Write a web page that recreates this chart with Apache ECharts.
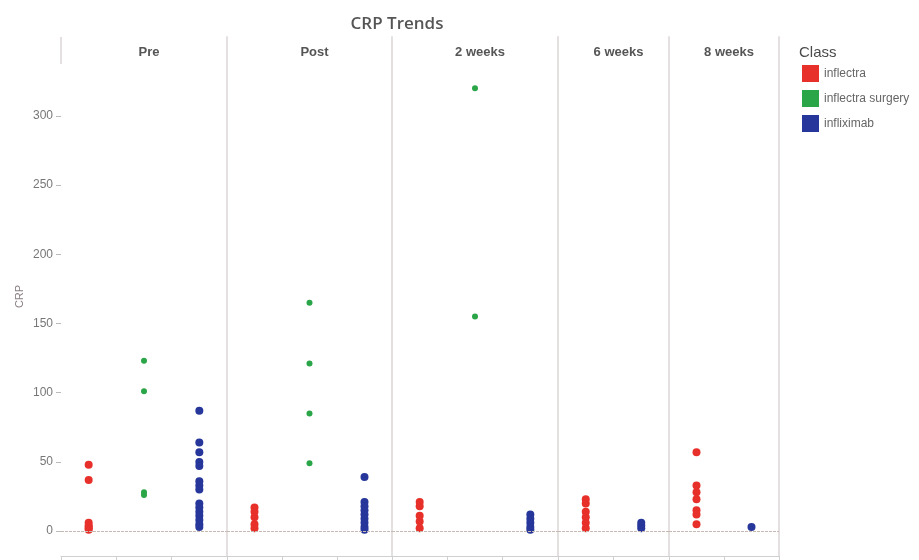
<!DOCTYPE html>
<html>
<head>
<meta charset="utf-8">
<script src="https://cdn.jsdelivr.net/npm/echarts@6/dist/echarts.min.js"></script>
<style>
  html, body { margin: 0; padding: 0; background: #fff; }
  #chart { width: 919px; height: 560px; }
</style>
</head>
<body>
<div id="chart"></div>
<script>
// Data
const facets = ['Pre', 'Post', '2 weeks', '6 weeks', '8 weeks'];
const classes = ['inflectra', 'inflectra surgery', 'infliximab'];
const facetClasses = [
    ['inflectra', 'inflectra surgery', 'infliximab'],
    ['inflectra', 'inflectra surgery', 'infliximab'],
    ['inflectra', 'inflectra surgery', 'infliximab'],
    ['inflectra', 'infliximab'],
    ['inflectra', 'infliximab']
];
const inflectraCRP = [
    [48, 37, 6, 4, 3, 2, 1],
    [17, 14, 10, 5, 2],
    [21, 18, 11, 7, 2],
    [23, 20, 14, 10, 6, 2],
    [57, 33, 28, 23, 15, 12, 5]
];
const surgeryCRP = [
    [123, 101, 28, 26],
    [165, 121, 85, 49],
    [320, 155],
    [],
    []
];
const infliximabCRP = [
    [87, 64, 57, 50, 47, 36, 33, 30, 20, 17, 14, 11, 8, 5, 3],
    [39, 21, 18, 15, 12, 9, 6, 3, 1],
    [12, 9, 6, 3, 1],
    [6, 4, 2],
    [3]
];
const crpTicks = [0, 50, 100, 150, 200, 250, 300];

// Layout
const panelLeft = [61, 227, 392, 558, 669];
const panelWidth = [166, 165, 166, 111, 110];
const colors = { 'inflectra': '#e8302a', 'inflectra surgery': '#2aa548', 'infliximab': '#26369a' };
const sizes = { 'inflectra': 8, 'inflectra surgery': 6, 'infliximab': 8 };
const valuesByClass = { 'inflectra': inflectraCRP, 'inflectra surgery': surgeryCRP, 'infliximab': infliximabCRP };
const font = 'Liberation Sans, Arial, sans-serif';
const dividerColor = '#e4e0e0';

let chart = echarts.init(document.getElementById('chart'));

let grids = [], xAxes = [], yAxes = [], series = [];
let titles = [{
    text: 'CRP Trends',
    left: 392,
    top: 11,
    textAlign: 'center',
    textStyle: { fontFamily: 'Open Sans, sans-serif', fontSize: 17, fontWeight: 600, color: '#555' }
}, {
    text: 'Class',
    left: 794,
    top: 40,
    textStyle: { fontFamily: font, fontSize: 15, fontWeight: 'normal', color: '#4a4a4a' }
}];

facets.forEach((facet, i) => {
    grids.push({ left: panelLeft[i], width: panelWidth[i], top: 37, bottom: 4 });

    titles.push({
        text: facet,
        left: panelLeft[i] + panelWidth[i] / 2,
        top: 41,
        textAlign: 'center',
        textStyle: { fontFamily: font, fontSize: 13, fontWeight: 'bold', color: '#555' }
    });

    xAxes.push({
        type: 'category',
        gridIndex: i,
        data: facetClasses[i],
        axisLine: { onZero: false, lineStyle: { color: '#d0d0d0' } },
        axisTick: { show: true, length: 8, interval: 0, lineStyle: { color: '#d0d0d0' } },
        axisLabel: { show: false },
        splitLine: { show: false }
    });

    yAxes.push({
        type: 'value',
        gridIndex: i,
        min: -18,
        max: 357,
        name: i === 0 ? 'CRP' : '',
        nameLocation: 'middle',
        nameGap: 36,
        nameTextStyle: { fontFamily: font, fontSize: 11, color: '#8a7f86' },
        axisLine: { show: i > 0, lineStyle: { color: dividerColor, width: 2 } },
        axisTick: { show: i === 0, length: 5, customValues: crpTicks, lineStyle: { color: '#bbb' } },
        axisLabel: { show: i === 0, customValues: crpTicks, fontFamily: font, fontSize: 12, color: '#777', margin: 8 },
        splitLine: { show: false }
    });

    facetClasses[i].forEach((cls, k) => {
        let s = {
            name: cls,
            type: 'scatter',
            xAxisIndex: i,
            yAxisIndex: i,
            symbolSize: sizes[cls],
            itemStyle: { color: colors[cls], opacity: 1 },
            data: valuesByClass[cls][i].map(v => [cls, v])
        };
        if (k === 0) {
            s.markLine = {
                silent: true,
                symbol: 'none',
                label: { show: false },
                lineStyle: { color: '#c6bab2', type: [3, 1], width: 1 },
                data: [{ yAxis: 0 }]
            };
        }
        series.push(s);
    });
});

// right border of last panel
yAxes.push({
    type: 'value',
    gridIndex: 4,
    position: 'right',
    min: -18,
    max: 357,
    axisLine: { show: true, lineStyle: { color: dividerColor, width: 2 } },
    axisTick: { show: false },
    axisLabel: { show: false },
    splitLine: { show: false }
});

chart.setOption({
    animation: false,
    title: titles,
    legend: {
        orient: 'vertical',
        left: 797,
        top: 60,
        icon: 'rect',
        itemWidth: 17,
        itemHeight: 17,
        itemGap: 8,
        data: classes,
        textStyle: { fontFamily: font, fontSize: 12, color: '#666' }
    },
    grid: grids,
    xAxis: xAxes,
    yAxis: yAxes,
    series: series,
    graphic: [{
        type: 'line',
        shape: { x1: 61, y1: 37, x2: 61, y2: 64 },
        style: { stroke: dividerColor, lineWidth: 2 }
    }]
});
</script>
</body>
</html>
